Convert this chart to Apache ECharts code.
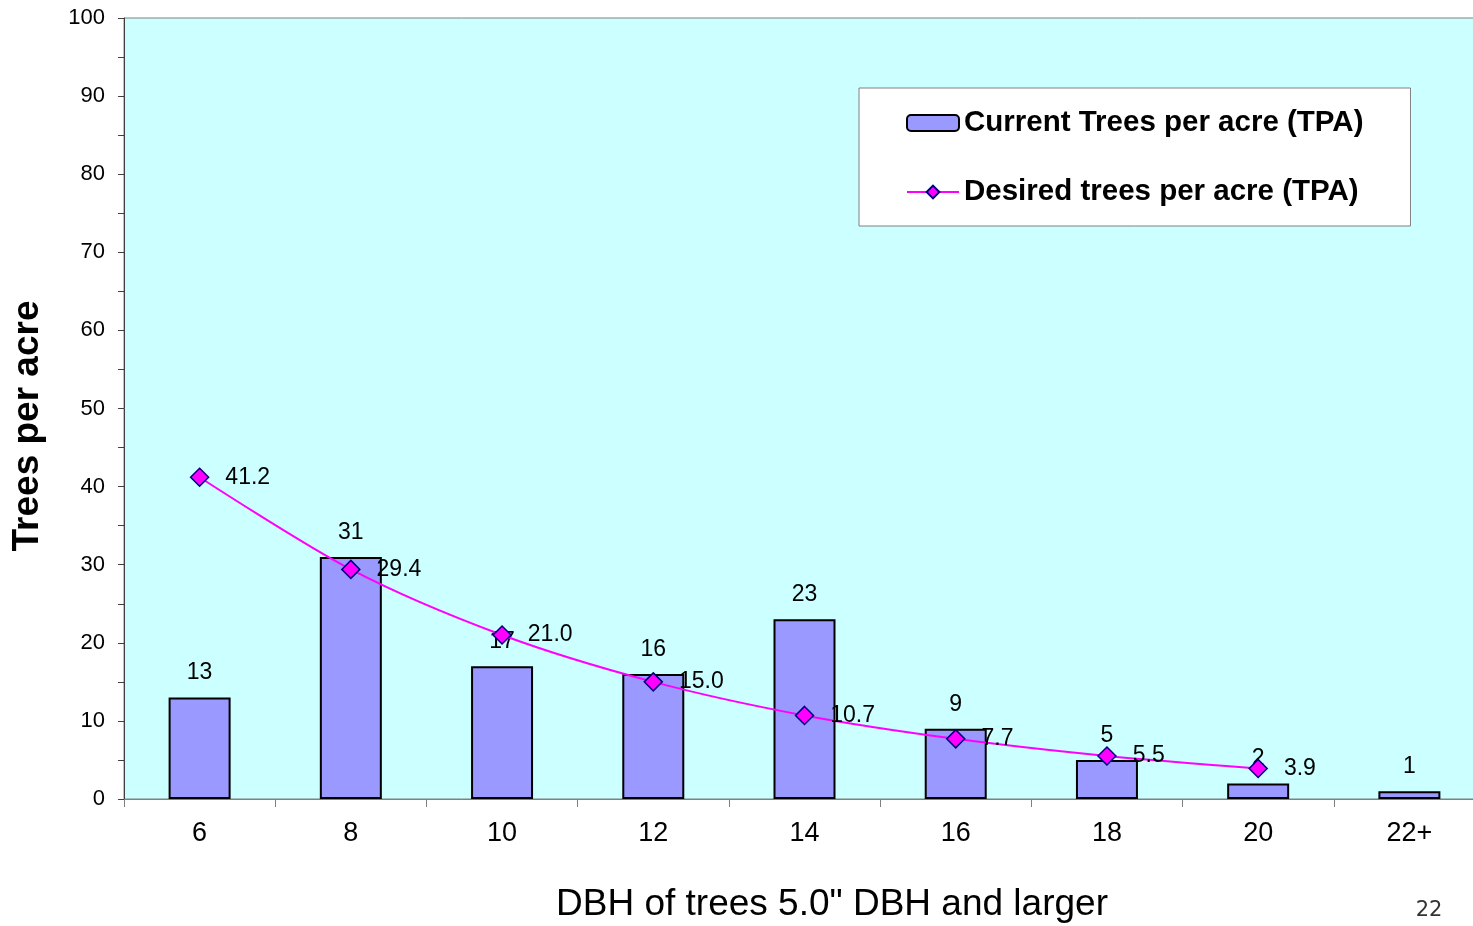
<!DOCTYPE html>
<html>
<head>
<meta charset="utf-8">
<script src="https://cdn.jsdelivr.net/npm/echarts@6/dist/echarts.min.js"></script>
<style>
  html, body { margin: 0; padding: 0; background: #ffffff; }
  #chart { width: 1473px; height: 926px; }
</style>
</head>
<body>
<div id="chart"></div>
<script>
// Diameter classes (inches DBH)
const categories = ['6', '8', '10', '12', '14', '16', '18', '20', '22+'];
// Current stand: trees per acre by diameter class
const currentTPA = [13, 31, 17, 16, 23, 9, 5, 2, 1];
// Target diameter distribution (no target for 22+)
const desiredTPA = [41.2, 29.4, 21.0, 15.0, 10.7, 7.7, 5.5, 3.9, null];
const seriesNames = ['Current Trees per acre (TPA)', 'Desired trees per acre (TPA)'];
const xTitle = 'DBH of trees 5.0" DBH and larger';
const yTitle = 'Trees per acre';
const pageNumber = '22';

const FONT = 'Liberation Sans, Arial, sans-serif';
const chart = echarts.init(document.getElementById('chart'), null, { renderer: 'canvas' });

chart.setOption({
  animation: false,
  textStyle: { fontFamily: FONT },
  // plot area runs past the right edge of the page
  grid: {
    left: 124, top: 18, width: 1361, height: 781,
    outerBoundsMode: 'none',
    containLabel: false,
    show: true, backgroundColor: '#CCFFFF', borderColor: '#808080', borderWidth: 1
  },
  legend: {
    orient: 'vertical',
    left: 859, top: 88,
    padding: [20, 47, 19, 47],
    itemGap: 39,
    itemWidth: 52, itemHeight: 16,
    backgroundColor: '#ffffff',
    borderColor: '#808080', borderWidth: 1,
    textStyle: { fontFamily: FONT, fontSize: 29.5, fontWeight: 'bold', color: '#000' },
    data: seriesNames
  },
  xAxis: {
    type: 'category',
    data: categories,
    boundaryGap: true,
    axisLine: { lineStyle: { color: '#808080', width: 1 } },
    axisTick: { show: true, length: 8, lineStyle: { color: '#808080' } },
    axisLabel: { fontFamily: FONT, fontSize: 27, color: '#000', margin: 21 }
  },
  yAxis: {
    type: 'value',
    min: 0, max: 100, interval: 10,
    axisLine: { show: true, lineStyle: { color: '#404040', width: 1 } },
    axisTick: { show: true, length: 6, lineStyle: { color: '#404040' } },
    minorTick: { show: true, splitNumber: 2, length: 6, lineStyle: { color: '#404040' } },
    splitLine: { show: false },
    axisLabel: { fontFamily: FONT, fontSize: 22, color: '#000', margin: 19 }
  },
  series: [
    {
      name: seriesNames[0],
      type: 'bar',
      data: currentTPA,
      barWidth: 62,
      itemStyle: { color: '#9999FF', borderColor: '#000000', borderWidth: 2 },
      label: {
        show: true, position: 'top', distance: 13,
        fontFamily: FONT, fontSize: 23, color: '#000'
      },
      z: 2
    },
    {
      name: seriesNames[1],
      type: 'line',
      data: desiredTPA,
      smooth: 0.3,
      symbol: 'diamond',
      symbolSize: 18,
      lineStyle: { color: '#FF00FF', width: 2 },
      itemStyle: { color: '#FF00FF', borderColor: '#000080', borderWidth: 1.5 },
      label: {
        show: true, position: 'right', distance: 16,
        fontFamily: FONT, fontSize: 23, color: '#000',
        formatter: p => p.value == null ? '' : Number(p.value).toFixed(1)
      },
      z: 3
    }
  ],
  graphic: [
    {
      type: 'text', x: 832, y: 905,
      style: {
        text: xTitle, fontFamily: FONT, fontSize: 37, fill: '#000',
        align: 'center', verticalAlign: 'middle'
      }
    },
    {
      type: 'text', x: 28, y: 426, rotation: Math.PI / 2,
      style: {
        text: yTitle, fontFamily: FONT, fontSize: 37, fontWeight: 'bold', fill: '#000',
        align: 'center', verticalAlign: 'middle'
      }
    },
    {
      type: 'text', x: 1429, y: 911,
      style: {
        text: pageNumber, fontFamily: 'DejaVu Sans, sans-serif', fontSize: 21, fill: '#333333',
        align: 'center', verticalAlign: 'middle'
      }
    }
  ]
});
</script>
</body>
</html>
